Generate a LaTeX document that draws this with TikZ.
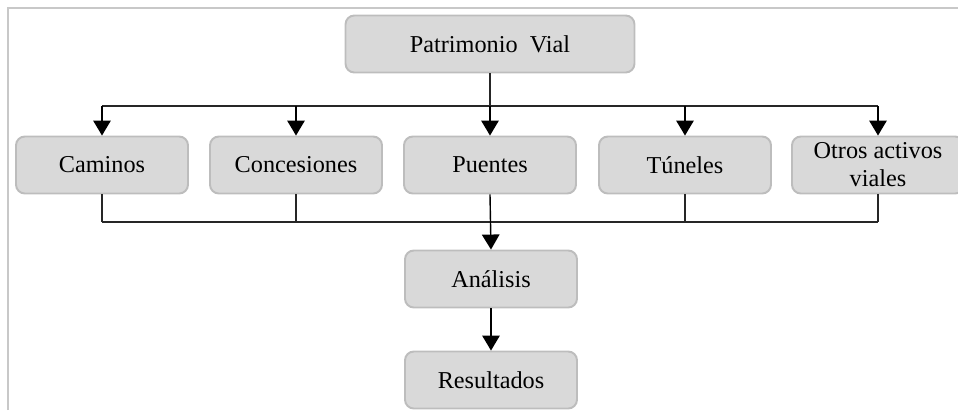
\documentclass[tikz,border=0pt]{standalone}
\usepackage{fontspec}
\setmainfont{Liberation Serif}
\usetikzlibrary{positioning}
\usetikzlibrary{arrows.meta}
\definecolor{boxfill}{HTML}{D9D9D9}
\definecolor{boxline}{HTML}{BDBDBD}
\definecolor{frameline}{HTML}{C8C8C8}
\tikzset{
    boxnode/.style = {rectangle, rounded corners=5pt, line width=1.1pt, draw=boxline, fill=boxfill, align=center, minimum width=3.44cm, minimum height=1.14cm, inner sep=1pt, font=\fontsize{13.8}{14.5}\selectfont, text=black},
    edgel/.style = {-, line width=0.8pt, black!85},
    edgea/.style = {-{Triangle[width=0.35cm,length=0.3cm]}, line width=0.8pt, black},
    framel/.style = {line width=0.6pt, frameline}
}

\begin{document}
\begin{tikzpicture}[x=0.02cm, y=-0.02cm]
  \useasboundingbox (0,0) rectangle (958,410);
  \draw[framel] (8,410) -- (8,8) -- (958,8);
  % top node
  \node[boxnode, minimum width=5.78cm] (pv) at (490,44) {Patrimonio\hspace{0.25em} Vial};
  % row of assets
  \node[boxnode] (cam) at (102,165) {Caminos};
  \node[boxnode] (con) at (296,165) {Concesiones};
  \node[boxnode] (pue) at (490,165) {Puentes};
  \node[boxnode] (tun) at (685,165) {T\'uneles};
  \node[boxnode, inner sep=0pt] (otr) at (878,165) {Otros activos\\[1.5pt]viales};
  % results
  \node[boxnode] (ana) at (491,279) {An\'alisis};
  \node[boxnode] (res) at (491,380) {Resultados};
  \coordinate (hub) at (490,106);
  \coordinate (sink) at (490,222);
  % branches
  \draw[edgel] (pv) -- (hub);
  \draw[edgel] (cam.north |- hub) -- (otr.north |- hub);
  \foreach \n in {cam,con,pue,tun,otr}
    \draw[edgea] (\n.north |- hub) -- (\n.north);
  % join
  \draw[edgel] (cam.south |- sink) -- (otr.south |- sink);
  \foreach \n in {cam,con,tun,otr}
    \draw[edgel] (\n.south) -- (\n.south |- sink);
  \draw[edgea] (pue.south) -- (ana.north);
  \draw[edgea] (ana) -- (res);
\end{tikzpicture}
\end{document}
